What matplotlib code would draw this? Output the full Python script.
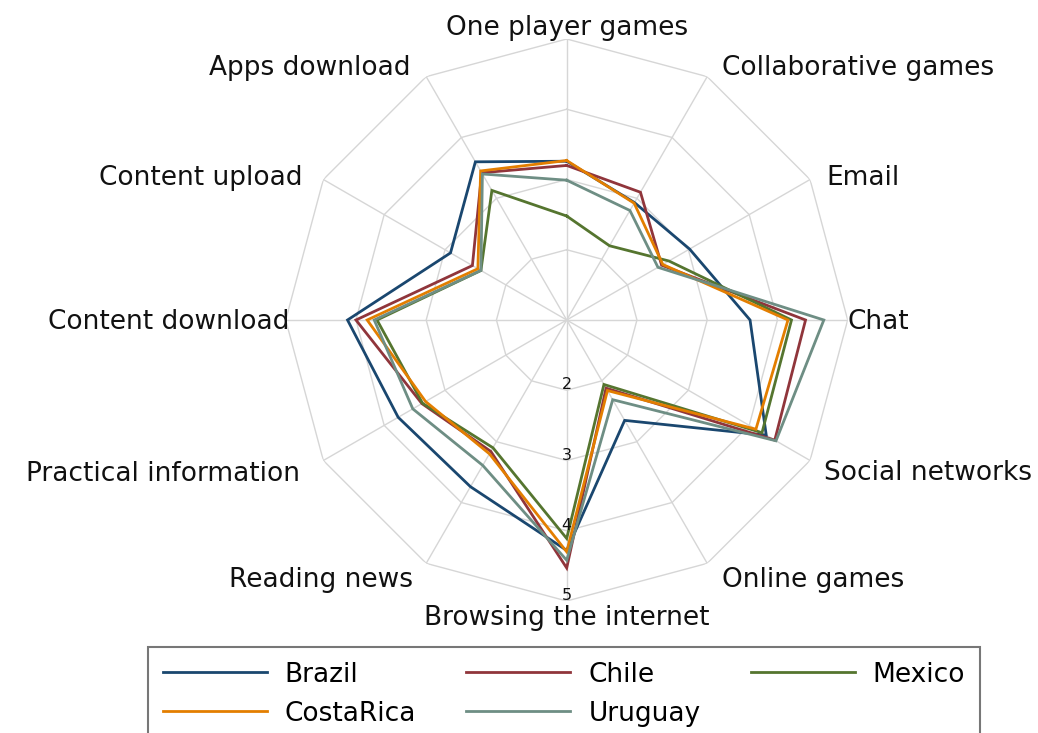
import numpy as np
import matplotlib
matplotlib.use("Agg")
import matplotlib.pyplot as plt
from matplotlib.lines import Line2D

plt.rcParams['font.family'] = ['DejaVu Sans']

categories = ["One player games", "Collaborative games", "Email", "Chat",
              "Social networks", "Online games", "Browsing the internet",
              "Reading news", "Practical information", "Content download",
              "Content upload", "Apps download"]

brazil    = [3.26, 2.93, 3.02, 3.61, 4.28, 2.65, 4.28, 3.74, 3.77, 4.12, 2.91, 3.60]
chile     = [3.20, 3.10, 2.56, 4.40, 4.42, 2.12, 4.53, 3.16, 3.38, 4.00, 2.55, 3.42]
mexico    = [2.48, 2.22, 2.68, 4.20, 4.21, 2.06, 4.11, 3.10, 3.37, 3.70, 2.41, 3.13]
costarica = [3.27, 2.92, 2.58, 4.15, 4.11, 2.16, 4.30, 3.20, 3.32, 3.84, 2.46, 3.45]
uruguay   = [2.99, 2.80, 2.50, 4.66, 4.44, 2.31, 4.42, 3.39, 3.53, 3.74, 2.41, 3.40]

series_names = ["Brazil", "Chile", "Mexico", "CostaRica", "Uruguay"]
series_vals = [brazil, chile, mexico, costarica, uruguay]
colors = ["#1a476f", "#90353b", "#55752f", "#e37e00", "#6e8e84"]

ring_ticks = [2, 3, 4, 5]
rmin, rmax = 1, 5

W, H = 1038, 733
fig = plt.figure(figsize=(W / 100, H / 100), dpi=100)
cx, cy, R = 566.7, 320.0, 281.0
ax = fig.add_axes([(cx - R) / W, (H - cy - R) / H, 2 * R / W, 2 * R / H],
                  projection='polar')
ax.set_theta_offset(np.pi / 2)
ax.set_theta_direction(-1)
ax.set_ylim(rmin, rmax)
ax.set_axis_off()

n = len(categories)
theta = np.linspace(0, 2 * np.pi, n, endpoint=False)
theta_c = np.append(theta, theta[0])

grid_col = "#d6d6d6"
for t in theta:
    ax.plot([t, t], [rmin, rmax], color=grid_col, lw=1.0, zorder=1)
for r in ring_ticks:
    ax.plot(theta_c, [r] * (n + 1), color=grid_col, lw=1.0, zorder=1)

for name, vals, col in zip(series_names, series_vals, colors):
    ax.plot(theta_c, list(vals) + [vals[0]], color=col, lw=2.0, zorder=3,
            solid_joinstyle='miter')

# radial tick labels along "Browsing the internet"
for r in ring_ticks:
    ax.annotate(str(r), xy=(theta[6], r), xytext=(0, 1), textcoords='offset pixels',
                ha='center', va='baseline', fontsize=11.5, color='#111111', zorder=4,
                annotation_clip=False)

# category labels: (dx, dy) pixel offsets from outer vertex, ha
label_pos = [
    (0, 11, 'center'),
    (15, 9, 'left'),
    (16, 2, 'left'),
    (0, -2, 'left'),
    (14, -13, 'left'),
    (15, -17, 'left'),
    (0, -17, 'center'),
    (-13, -17, 'right'),
    (-23, -13, 'right'),
    (4, -2, 'right'),
    (-21, 2, 'right'),
    (-16, 9, 'right'),
]
for t, lab, (dx, dy, ha) in zip(theta, categories, label_pos):
    ax.annotate(lab, xy=(t, rmax), xytext=(dx, dy), textcoords='offset pixels',
                ha=ha, va='center', fontsize=19, color='#111111',
                annotation_clip=False)

handles = [Line2D([], [], color=c, lw=2.0) for c in colors]
order = [0, 3, 1, 4, 2]
leg = fig.legend([handles[i] for i in order], [series_names[i] for i in order],
                 ncol=3, loc='upper left',
                 bbox_to_anchor=(148 / W, 1 - 647 / H),
                 fontsize=19, handlelength=3.95, handletextpad=0.68,
                 columnspacing=1.9, labelspacing=0.5, borderpad=0.55,
                 frameon=True, fancybox=False, borderaxespad=0)
leg.get_frame().set_edgecolor('#555555')
leg.get_frame().set_linewidth(1.5)

fig.savefig("out.png", dpi=100)
